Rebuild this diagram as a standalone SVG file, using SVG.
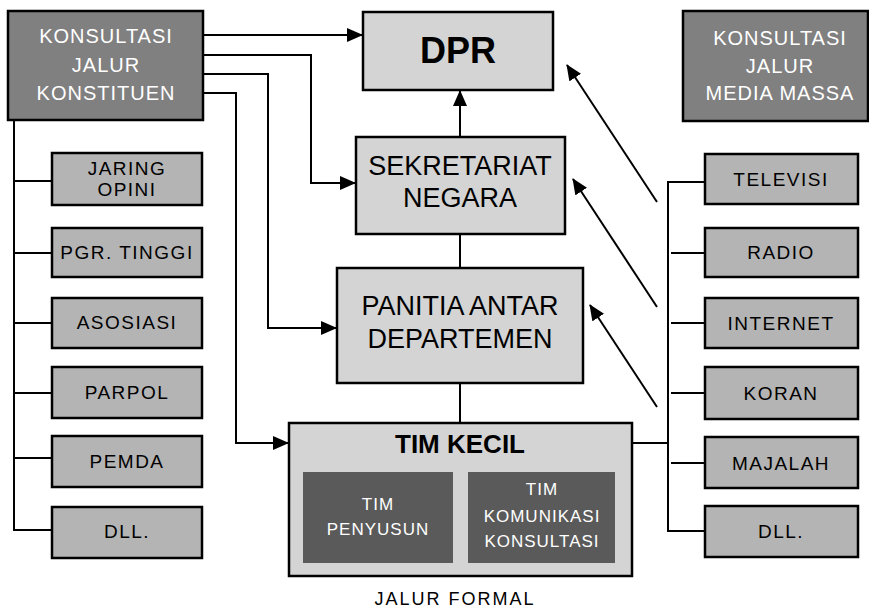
<svg xmlns="http://www.w3.org/2000/svg" width="869" height="609" viewBox="0 0 869 609">
<style>
.box{stroke:#000;stroke-width:2.5}
.dark{fill:#808080}
.light{fill:#d4d4d4}
.mid{fill:#b4b4b4}
.inner{fill:#5a5a5a}
.t{font-family:"Liberation Sans",Arial,sans-serif;text-anchor:middle}
.s{font-size:19px;letter-spacing:1.5px}
.n{font-size:17px;letter-spacing:1px}
.w{fill:#fff}
.k{fill:#000}
.ln{fill:none;stroke:#000;stroke-width:2}
</style>
<defs>
<marker id="ah" markerUnits="userSpaceOnUse" markerWidth="16" markerHeight="14" refX="15" refY="7" orient="auto">
<path d="M0,0 L16,7 L0,14 Z" fill="#000"/>
</marker>
</defs>
<rect width="869" height="609" fill="#fff"/>
<g id="connectors">
<path class="ln" d="M203,35 H362" marker-end="url(#ah)"/>
<path class="ln" d="M203,55 H311 V183 H355" marker-end="url(#ah)"/>
<path class="ln" d="M203,74 H268 V328 H336" marker-end="url(#ah)"/>
<path class="ln" d="M203,93 H236 V443 H288" marker-end="url(#ah)"/>
<path class="ln" d="M460,137 V91" marker-end="url(#ah)"/>
<path class="ln" d="M460,234 V268"/>
<path class="ln" d="M460,383 V423"/>
<path class="ln" d="M14,120 V530 H52"/>
<path class="ln" d="M14,181 H52 M14,253 H52 M14,323 H52 M14,393 H52 M14,458 H52"/>
<path class="ln" d="M705,182 H668 V531 H705"/>
<path class="ln" d="M671,253 H705 M671,323 H705 M671,393 H705 M671,463 H705"/>
<path class="ln" d="M632,443 H668"/>
<path class="ln" d="M657,202 L567,65" marker-end="url(#ah)"/>
<path class="ln" d="M657,307 L573,179" marker-end="url(#ah)"/>
<path class="ln" d="M657,407 L590,305" marker-end="url(#ah)"/>
</g>
<g id="konsultasi-konstituen">
<rect class="box dark" x="8" y="11" width="195" height="109"/>
<text class="t w" font-size="20" letter-spacing="1" x="106" y="43">KONSULTASI</text>
<text class="t w" font-size="20" letter-spacing="1" x="106" y="72">JALUR</text>
<text class="t w" font-size="20" letter-spacing="1" x="106" y="100">KONSTITUEN</text>
</g>
<g id="konsultasi-media">
<rect class="box dark" x="683" y="11" width="185" height="110"/>
<text class="t w" font-size="20" letter-spacing="1" x="780" y="45">KONSULTASI</text>
<text class="t w" font-size="20" letter-spacing="1" x="780" y="73">JALUR</text>
<text class="t w" font-size="20" letter-spacing="1" x="780" y="100">MEDIA MASSA</text>
</g>
<g id="dpr">
<rect class="box light" x="363" y="12" width="190" height="78"/>
<text class="t k" font-size="36" font-weight="bold" x="458" y="63">DPR</text>
</g>
<g id="sekretariat">
<rect class="box light" x="356" y="137" width="209" height="97"/>
<text class="t k" font-size="27" x="460" y="175">SEKRETARIAT</text>
<text class="t k" font-size="27" x="460" y="207">NEGARA</text>
</g>
<g id="panitia">
<rect class="box light" x="337" y="268" width="246" height="115"/>
<text class="t k" font-size="27" x="460" y="315">PANITIA ANTAR</text>
<text class="t k" font-size="27" x="460" y="348">DEPARTEMEN</text>
</g>
<g id="tim-kecil">
<rect class="box light" x="289" y="423" width="343" height="153"/>
<text class="t k" font-size="26" font-weight="bold" x="460" y="453">TIM KECIL</text>
<rect class="inner" x="303" y="472" width="150" height="91"/>
<text class="t w n" x="378" y="510">TIM</text>
<text class="t w n" x="378" y="535">PENYUSUN</text>
<rect class="inner" x="468" y="472" width="147" height="91"/>
<text class="t w n" x="542" y="495">TIM</text>
<text class="t w n" x="542" y="522">KOMUNIKASI</text>
<text class="t w n" x="542" y="547">KONSULTASI</text>
</g>
<g id="jaring-opini">
<rect class="box mid" x="52" y="153" width="150" height="52"/>
<text class="t k s" x="127" y="175">JARING</text>
<text class="t k s" x="127" y="196">OPINI</text>
</g>
<g id="pgr-tinggi">
<rect class="box mid" x="52" y="228" width="150" height="49"/>
<text class="t k s" x="127" y="259">PGR. TINGGI</text>
</g>
<g id="asosiasi">
<rect class="box mid" x="52" y="298" width="150" height="50"/>
<text class="t k s" x="127" y="329">ASOSIASI</text>
</g>
<g id="parpol">
<rect class="box mid" x="52" y="367" width="150" height="51"/>
<text class="t k s" x="127" y="399">PARPOL</text>
</g>
<g id="pemda">
<rect class="box mid" x="52" y="436" width="150" height="51"/>
<text class="t k s" x="127" y="468">PEMDA</text>
</g>
<g id="dll-left">
<rect class="box mid" x="52" y="507" width="150" height="51"/>
<text class="t k s" x="127" y="538">DLL.</text>
</g>
<g id="televisi">
<rect class="box mid" x="705" y="154" width="153" height="50"/>
<text class="t k s" x="781" y="186">TELEVISI</text>
</g>
<g id="radio">
<rect class="box mid" x="705" y="228" width="153" height="49"/>
<text class="t k s" x="781" y="259">RADIO</text>
</g>
<g id="internet">
<rect class="box mid" x="705" y="298" width="153" height="50"/>
<text class="t k s" x="781" y="330">INTERNET</text>
</g>
<g id="koran">
<rect class="box mid" x="705" y="367" width="153" height="52"/>
<text class="t k s" x="781" y="400">KORAN</text>
</g>
<g id="majalah">
<rect class="box mid" x="705" y="437" width="153" height="51"/>
<text class="t k s" x="781" y="470">MAJALAH</text>
</g>
<g id="dll-right">
<rect class="box mid" x="705" y="506" width="153" height="51"/>
<text class="t k s" x="781" y="538">DLL.</text>
</g>
<text class="t k" font-size="18" letter-spacing="2" x="455" y="605">JALUR FORMAL</text>
</svg>
